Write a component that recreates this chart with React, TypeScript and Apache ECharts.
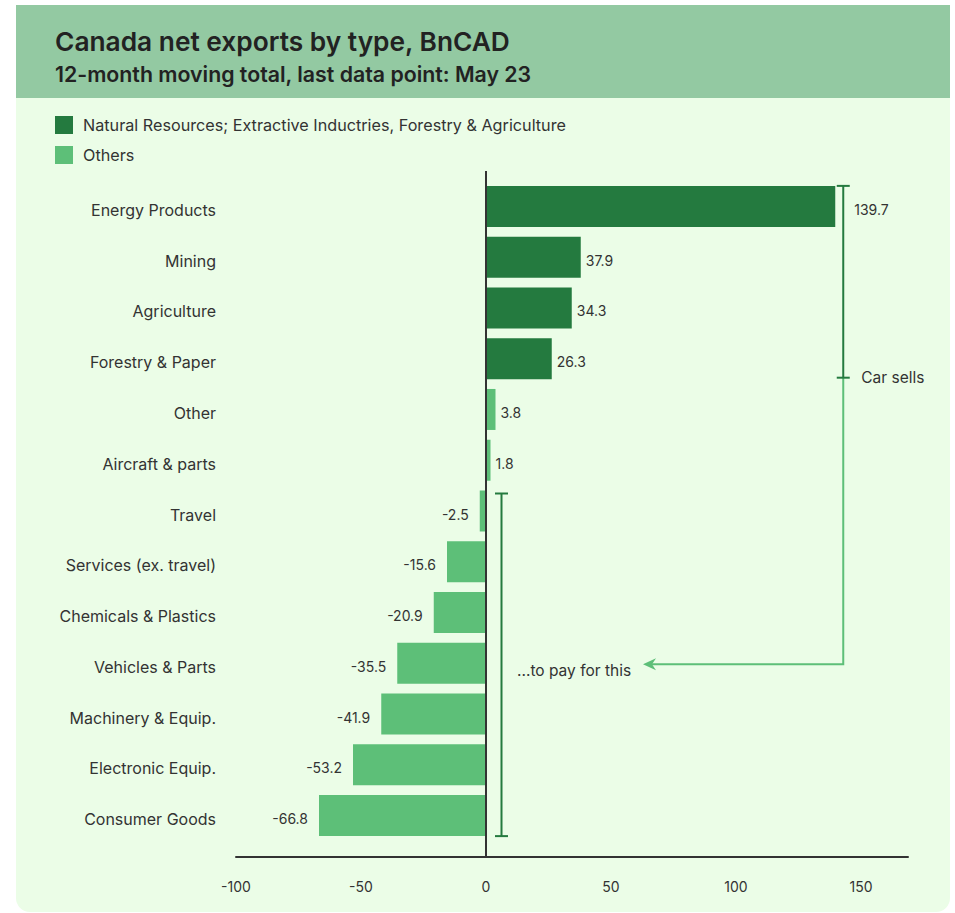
import React, { useEffect, useRef } from "react";
import * as echarts from "echarts";

const categories = [
  "Energy Products",
  "Mining",
  "Agriculture",
  "Forestry & Paper",
  "Other",
  "Aircraft & parts",
  "Travel",
  "Services (ex. travel)",
  "Chemicals & Plastics",
  "Vehicles & Parts",
  "Machinery & Equip.",
  "Electronic Equip.",
  "Consumer Goods",
];
const naturalValues: (number | null)[] = [139.7, 37.9, 34.3, 26.3, null, null, null, null, null, null, null, null, null];
const otherValues: (number | null)[] = [null, null, null, null, 3.8, 1.8, -2.5, -15.6, -20.9, -35.5, -41.9, -53.2, -66.8];
const seriesNames = ["Natural Resources; Extractive Inductries, Forestry & Agriculture", "Others"];
const xTicks = { min: -100, max: 168.8, interval: 50 };

const DARK = "#247a3f";
const LIGHT = "#5dbf78";
const TXT = "#333333";
const FONT = "Inter, 'Noto Sans', sans-serif";

function toData(vals: (number | null)[]) {
  return vals.map((v, i) =>
    v === null
      ? "-"
      : {
          value: v,
          label: {
            show: true,
            position: v >= 0 ? "right" : "left",
            distance: v >= 0 ? (i === 0 ? 19 : 5) : 11,
            offset: [0, 3],
            formatter: (p: any) => String(p.value),
            color: TXT,
            fontSize: 14,
            fontFamily: FONT,
          },
        }
  );
}

export default function App() {
  const ref = useRef<HTMLDivElement>(null);
  useEffect(() => {
    if (!ref.current) return;
    const chart = echarts.init(ref.current, undefined, { renderer: "svg" });
    const base: any = {
      animation: false,
      backgroundColor: "#ffffff",
      textStyle: { fontFamily: FONT },
      legend: {
        left: 50,
        top: 111,
        orient: "vertical",
        itemWidth: 18,
        itemHeight: 18,
        itemGap: 12,
        icon: "rect",
        textStyle: { fontSize: 16.2, color: TXT, fontFamily: FONT, padding: [0, 0, 0, 5] },
        data: seriesNames,
      },
      grid: { left: 236, right: 47, top: 181, height: 660 },
      xAxis: {
        type: "value",
        min: xTicks.min,
        max: xTicks.max,
        interval: xTicks.interval,
        offset: 16,
        axisLine: { show: true, onZero: false, lineStyle: { color: TXT, width: 2 } },
        axisTick: { show: false },
        splitLine: { show: false },
        axisLabel: { showMaxLabel: false, margin: 22, fontSize: 14, color: TXT, fontFamily: FONT },
      },
      yAxis: {
        type: "category",
        inverse: true,
        data: categories,
        axisLine: { show: false, onZero: false },
        axisTick: { show: false },
        axisLabel: {
          margin: 20,
          fontSize: 16,
          color: TXT,
          fontFamily: FONT,
          formatter: (v: string) => `{a|${v}}`,
          rich: { a: { fontSize: 16, color: TXT, fontFamily: FONT, padding: [7, 0, 0, 0] } },
        },
      },
      series: [
        {
          name: seriesNames[0],
          type: "bar",
          stack: "total",
          barWidth: 41,
          itemStyle: { color: DARK },
          data: toData(naturalValues),
        },
        {
          name: seriesNames[1],
          type: "bar",
          stack: "total",
          barWidth: 41,
          itemStyle: { color: LIGHT },
          data: toData(otherValues),
        },
      ],
    };
    chart.setOption(base);

    const px = (x: number, i: number) => chart.convertToPixel({ gridIndex: 0 }, [x, categories[i]]) as number[];
    const half = 20.5;
    const zeroTop = px(0, 0);
    const zeroBot = px(0, categories.length - 1);
    const x0 = zeroTop[0];
    const energy = px(naturalValues[0] as number, 0);
    const bx = energy[0] + 8;
    const bTop = energy[1] - half;
    const forestry = px(0, 3);
    const bBot = forestry[1] + 19;
    const travel = px(0, 6);
    const lTop = travel[1] - half + 3;
    const lBot = zeroBot[1] + half;
    const lx = x0 + 15.5;
    const arrowY = px(0, 9)[1] + 1;
    const arrowTipX = 643;

    const graphic: any[] = [
      { type: "rect", z: -10, shape: { x: 16, y: 5, width: 934, height: 907, r: [0, 0, 14, 14] }, style: { fill: "#ebfde7" } },
      { type: "rect", z: -9, shape: { x: 16, y: 5, width: 934, height: 93 }, style: { fill: "#93c9a2" } },
      { type: "text", x: 55, y: 41, style: { text: "Canada net exports by type, BnCAD", fontSize: 26.3, fontWeight: 600, fill: "#222", fontFamily: FONT, verticalAlign: "middle" } },
      { type: "text", x: 55, y: 74, style: { text: "12-month moving total, last data point: May 23", fontSize: 21.3, fontWeight: 600, fill: "#222", fontFamily: FONT, verticalAlign: "middle" } },
      // zero line
      { type: "line", z: 10, shape: { x1: x0, y1: 171, x2: x0, y2: 857 }, style: { stroke: TXT, lineWidth: 2 } },
      // arrow path
      { type: "polyline", shape: { points: [[bx, bBot], [bx, arrowY], [arrowTipX + 8, arrowY]] }, style: { stroke: LIGHT, lineWidth: 2, fill: null } },
      { type: "polygon", shape: { points: [[arrowTipX, arrowY], [arrowTipX + 13, arrowY - 6], [arrowTipX + 9, arrowY], [arrowTipX + 13, arrowY + 6]] }, style: { fill: LIGHT } },
      // right bracket
      { type: "line", shape: { x1: bx, y1: bTop, x2: bx, y2: bBot }, style: { stroke: DARK, lineWidth: 2 } },
      { type: "line", shape: { x1: bx - 6.5, y1: bTop, x2: bx + 6.5, y2: bTop }, style: { stroke: DARK, lineWidth: 2 } },
      { type: "line", shape: { x1: bx - 6.5, y1: bBot, x2: bx + 6.5, y2: bBot }, style: { stroke: DARK, lineWidth: 2 } },
      { type: "text", x: bx + 18, y: bBot, style: { text: "Car sells", fontSize: 15.5, fill: TXT, fontFamily: FONT, verticalAlign: "middle" } },
      // left bracket
      { type: "line", shape: { x1: lx, y1: lTop, x2: lx, y2: lBot }, style: { stroke: DARK, lineWidth: 2 } },
      { type: "line", shape: { x1: lx - 6.5, y1: lTop, x2: lx + 6.5, y2: lTop }, style: { stroke: DARK, lineWidth: 2 } },
      { type: "line", shape: { x1: lx - 6.5, y1: lBot, x2: lx + 6.5, y2: lBot }, style: { stroke: DARK, lineWidth: 2 } },
      { type: "text", x: lx + 15.5, y: arrowY + 6, style: { text: "...to pay for this", fontSize: 15.5, fill: TXT, fontFamily: FONT, verticalAlign: "middle" } },
    ];
    chart.setOption({ graphic });
    return () => chart.dispose();
  }, []);
  return <div ref={ref} style={{ position: "fixed", left: 0, top: 0, width: 955, height: 913 }} />;
}
